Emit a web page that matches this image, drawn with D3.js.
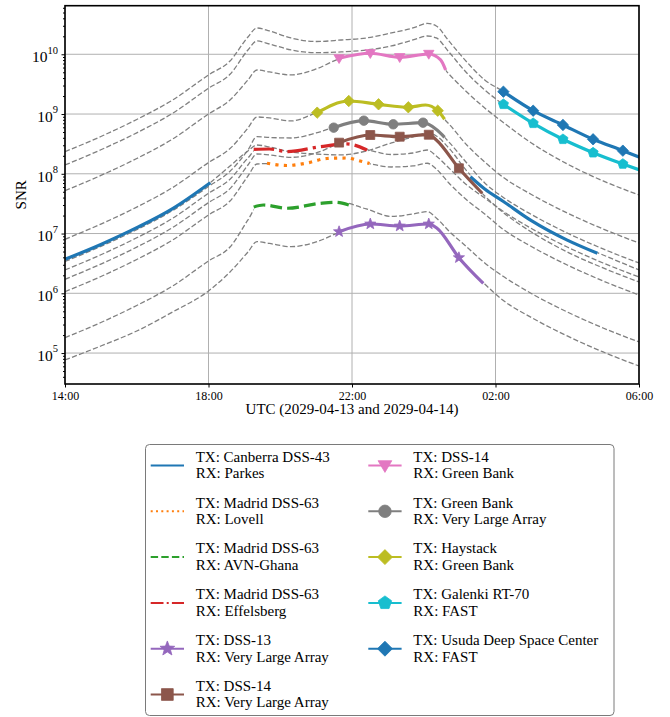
<!DOCTYPE html>
<html>
<head>
<meta charset="utf-8">
<script src="https://cdn.jsdelivr.net/npm/d3@7/dist/d3.min.js"></script>
<style>
  body { margin: 0; background: #fff; }
  svg text { font-family: "Liberation Serif", "Times New Roman", serif; fill: #000; }
</style>
</head>
<body>
<div id="chart"></div>
<script>
// ════════════════════════════════════════════
// Data — values are log10(SNR)
// hours counted from 2029-04-13 00:00 UTC (26 = 02:00 next day)
// ════════════════════════════════════════════

const xTicks = [14, 18, 22, 26, 30];
const xTickLabels = ["14:00", "18:00", "22:00", "02:00", "06:00"];
const yTicks = [1e5, 1e6, 1e7, 1e8, 1e9, 1e10];

// ── predicted SNR over the whole pass (grey dashed) ──
const modelHours = [14, 15, 16, 17, 18, 18.6, 19.1, 19.35, 19.7, 20.3, 21, 21.7, 22.4, 23.1, 23.7, 24.1, 24.35, 24.7, 25.2, 25.7, 26.2, 27, 28, 29, 30];

const canberraParkesModel = [6.569, 6.818, 7.098, 7.418, 7.829, 8.131, 8.382, 8.482, 8.449, 8.365, 8.331, 8.315, 8.382, 8.516, 8.616, 8.683, 8.633, 8.432, 8.047, 7.746, 7.545, 7.215, 6.889, 6.641, 6.390];
const madridLovellModel = [6.027, 6.281, 6.566, 6.892, 7.311, 7.545, 7.963, 8.164, 8.172, 8.139, 8.214, 8.265, 8.178, 8.114, 8.131, 8.176, 8.080, 7.846, 7.562, 7.327, 7.076, 6.783, 6.474, 6.206, 5.972];
const madridAvnModel = [5.257, 5.511, 5.796, 6.122, 6.541, 6.775, 7.227, 7.444, 7.461, 7.423, 7.495, 7.520, 7.411, 7.286, 7.327, 7.366, 7.260, 7.043, 6.775, 6.507, 6.290, 5.997, 5.687, 5.419, 5.185];
const madridEffelsbergModel = [6.390, 6.645, 6.929, 7.255, 7.674, 7.908, 8.265, 8.407, 8.390, 8.370, 8.449, 8.490, 8.407, 8.323, 8.348, 8.398, 8.298, 8.097, 7.813, 7.595, 7.378, 7.085, 6.775, 6.507, 6.273];
const dss13VlaModel = [4.884, 5.118, 5.369, 5.687, 6.039, 6.357, 6.691, 6.864, 6.834, 6.780, 6.859, 7.034, 7.152, 7.135, 7.143, 7.160, 7.093, 6.859, 6.474, 6.156, 5.888, 5.595, 5.286, 5.018, 4.783];
const dss14VlaModel = [6.234, 6.489, 6.773, 7.100, 7.518, 7.752, 8.147, 8.331, 8.315, 8.276, 8.348, 8.526, 8.641, 8.636, 8.636, 8.654, 8.566, 8.306, 7.947, 7.629, 7.361, 7.026, 6.691, 6.424, 6.189];
const dss14GbModel = [7.717, 7.972, 8.256, 8.582, 9.001, 9.235, 9.570, 9.737, 9.704, 9.654, 9.754, 9.938, 10.013, 9.963, 9.972, 10.005, 9.905, 9.670, 9.369, 9.101, 8.867, 8.516, 8.164, 7.880, 7.645];
const gbVlaModel = [6.532, 6.785, 7.065, 7.385, 7.787, 8.042, 8.398, 8.621, 8.608, 8.599, 8.683, 8.817, 8.884, 8.834, 8.842, 8.850, 8.750, 8.532, 8.181, 7.846, 7.612, 7.319, 7.009, 6.742, 6.507];
const haystackGbModel = [6.904, 7.158, 7.443, 7.769, 8.188, 8.422, 8.767, 8.951, 8.934, 8.884, 9.018, 9.168, 9.193, 9.143, 9.101, 9.135, 9.034, 8.834, 8.482, 8.198, 7.947, 7.654, 7.344, 7.076, 6.842];
const galenkiFastModel = [8.147, 8.402, 8.686, 9.013, 9.431, 9.665, 10.072, 10.223, 10.172, 10.072, 10.027, 10.039, 10.072, 10.139, 10.239, 10.306, 10.273, 10.039, 9.687, 9.403, 9.168, 8.870, 8.551, 8.293, 8.072];
const usudaFastModel = [8.370, 8.624, 8.909, 9.235, 9.654, 9.888, 10.290, 10.440, 10.390, 10.273, 10.214, 10.239, 10.273, 10.357, 10.440, 10.516, 10.474, 10.223, 9.871, 9.570, 9.386, 9.093, 8.783, 8.516, 8.281];

// ── observable windows (coloured) ──
const canberraHours1 = [14, 15, 16, 17, 18.05];
const canberraSnr1 = [6.569, 6.818, 7.098, 7.418, 7.851];
const canberraHours2 = [25.3, 25.7, 26.2, 27, 28, 28.84];
const canberraSnr2 = [7.951, 7.746, 7.545, 7.215, 6.889, 6.669];

const lovellHours = [19.63, 20.19, 20.75, 21.3, 21.86, 22.19, 22.49];
const lovellSnr = [8.176, 8.139, 8.181, 8.256, 8.264, 8.219, 8.172];

const avnHours = [19.26, 19.53, 20.19, 21.12, 21.54, 21.91];
const avnSnr = [7.444, 7.478, 7.423, 7.506, 7.523, 7.478];

const effelsbergHours = [19.26, 19.7, 20.19, 21.12, 21.86, 22.42];
const effelsbergSnr = [8.410, 8.415, 8.370, 8.454, 8.499, 8.398];

const dss13VlaHours = [21.64, 22.51, 23.33, 24.14, 24.37, 24.98, 25.66];
const dss13VlaSnr = [7.031, 7.160, 7.126, 7.160, 7.088, 6.596, 6.167];
const dss13VlaMarks = [1, 1, 1, 1, 0, 1, 0];

const dss14VlaHours = [21.64, 22.51, 23.33, 24.14, 24.35, 24.98, 25.63];
const dss14VlaSnr = [8.521, 8.649, 8.621, 8.654, 8.566, 8.092, 7.674];
const dss14VlaMarks = [1, 1, 1, 1, 0, 1, 0];

const dss14GbHours = [21.64, 22.51, 23.33, 24.14, 24.47, 24.61];
const dss14GbSnr = [9.933, 10.017, 9.950, 10.005, 9.905, 9.737];
const dss14GbMarks = [1, 1, 1, 1, 0, 0];

const gbVlaHours = [21.49, 22.33, 23.15, 23.98, 24.37, 24.58];
const gbVlaSnr = [8.772, 8.889, 8.828, 8.855, 8.733, 8.611];
const gbVlaMarks = [1, 1, 1, 1, 0, 0];

const haystackHours = [21.03, 21.91, 22.74, 23.57, 24.05, 24.39, 24.58];
const haystackSnr = [9.023, 9.218, 9.163, 9.113, 9.151, 9.056, 8.912];
const haystackMarks = [1, 1, 1, 1, 0, 1, 0];

const fastHours = [26.22, 27.05, 27.88, 28.72, 29.55, 30.1];
const galenkiSnr = [9.163, 8.845, 8.577, 8.353, 8.164, 8.047];
const usudaSnr = [9.374, 9.056, 8.817, 8.577, 8.387, 8.256];
const fastMarks = [1, 1, 1, 1, 1, 0];

const txNames = ["Canberra DSS-43", "Madrid DSS-63", "Madrid DSS-63", "Madrid DSS-63", "DSS-13", "DSS-14",
  "DSS-14", "Green Bank", "Haystack", "Galenki RT-70", "Usuda Deep Space Center"];
const rxNames = ["Parkes", "Lovell", "AVN-Ghana", "Effelsberg", "Very Large Array", "Very Large Array",
  "Green Bank", "Very Large Array", "Green Bank", "FAST", "FAST"];

// ── Series table ──
const seg = (t, v, m) => t.map((h, i) => ({ h, v: v[i], mark: m ? m[i] === 1 : false }));

const series = [
  { color: "#1f77b4", dash: null, marker: null, model: canberraParkesModel,
    segs: [seg(canberraHours1, canberraSnr1), seg(canberraHours2, canberraSnr2)] },
  { color: "#ff7f0e", dash: [1, 1.65], marker: null, model: madridLovellModel, segs: [seg(lovellHours, lovellSnr)] },
  { color: "#2ca02c", dash: [3.7, 1.6], marker: null, model: madridAvnModel, segs: [seg(avnHours, avnSnr)] },
  { color: "#d62728", dash: [6.4, 1.6, 1, 1.6], marker: null, model: madridEffelsbergModel,
    segs: [seg(effelsbergHours, effelsbergSnr)] },
  { color: "#9467bd", dash: null, marker: "*", model: dss13VlaModel, segs: [seg(dss13VlaHours, dss13VlaSnr, dss13VlaMarks)] },
  { color: "#8c564b", dash: null, marker: "s", model: dss14VlaModel, segs: [seg(dss14VlaHours, dss14VlaSnr, dss14VlaMarks)] },
  { color: "#e377c2", dash: null, marker: "v", model: dss14GbModel, segs: [seg(dss14GbHours, dss14GbSnr, dss14GbMarks)] },
  { color: "#7f7f7f", dash: null, marker: "o", model: gbVlaModel, segs: [seg(gbVlaHours, gbVlaSnr, gbVlaMarks)] },
  { color: "#bcbd22", dash: null, marker: "D", model: haystackGbModel, segs: [seg(haystackHours, haystackSnr, haystackMarks)] },
  { color: "#17becf", dash: null, marker: "p", model: galenkiFastModel, segs: [seg(fastHours, galenkiSnr, fastMarks)] },
  { color: "#1f77b4", dash: null, marker: "D", model: usudaFastModel, segs: [seg(fastHours, usudaSnr, fastMarks)] },
];

// ════════════════════════════════════════════
// Chart
// ════════════════════════════════════════════

const W = 670, H = 717;
const P = { l: 65, r: 639, t: 5.7, b: 384 };

const x = d3.scaleLinear().domain([14, 30]).range([P.l, P.r]);
const y = d3.scaleLog().domain([10 ** 4.482, 10 ** 10.813]).range([P.b, P.t]);

const svg = d3.select("#chart").append("svg").attr("width", W).attr("height", H);
const defs = svg.append("defs");

defs.append("clipPath").attr("id", "plot-clip")
  .append("rect")
  .attr("x", P.l).attr("y", P.t)
  .attr("width", P.r - P.l).attr("height", P.b - P.t);

// ── Grid ──
const grid = svg.append("g").attr("stroke", "#b0b0b0").attr("stroke-width", 1);
grid.selectAll(".gx").data(xTicks).join("line")
  .attr("x1", (d) => x(d)).attr("x2", (d) => x(d))
  .attr("y1", P.t).attr("y2", P.b);
grid.selectAll(".gy").data(yTicks).join("line")
  .attr("x1", P.l).attr("x2", P.r)
  .attr("y1", (d) => y(d)).attr("y2", (d) => y(d));

// ── Marker shapes ──
function markerPath(kind, s) {
  if (kind === "o") {
    const r = s / 2;
    return `M${r},0A${r},${r} 0 1,1 ${-r},0A${r},${r} 0 1,1 ${r},0Z`;
  }
  if (kind === "s") {
    const h = s * 0.47;
    return `M${-h},${-h}H${h}V${h}H${-h}Z`;
  }
  if (kind === "v") {
    const h = s * 0.55;
    return `M${-h},${-h * 0.7}L${h},${-h * 0.7}L0,${h}Z`;
  }
  if (kind === "D") {
    const r = s * 0.6;
    return `M0,${-r}L${r},0L0,${r}L${-r},0Z`;
  }
  if (kind === "*" || kind === "p") {
    const n = kind === "*" ? 10 : 5;
    const r = kind === "*" ? s * 0.62 : s * 0.56;
    let p = "";
    for (let i = 0; i < n; i++) {
      const a = -Math.PI / 2 + (i * 2 * Math.PI) / n;
      const rr = kind === "*" && i % 2 ? r * 0.42 : r;
      p += (i ? "L" : "M") + (rr * Math.cos(a)).toFixed(2) + "," + (rr * Math.sin(a)).toFixed(2);
    }
    return p + "Z";
  }
  return "";
}

// ── Lines ──
const line = d3.line()
  .x((d) => x(d.h))
  .y((d) => y(10 ** d.v))
  .curve(d3.curveMonotoneX);

const plot = svg.append("g").attr("clip-path", "url(#plot-clip)");

// predicted curves, hidden where the coloured observation is drawn
series.forEach((s, i) => {
  const cuts = s.segs.map((pts) => [pts[0].h, pts[pts.length - 1].h]);
  const gaps = [];
  let start = 13;
  cuts.forEach(([a, b]) => { gaps.push([start, a]); start = b; });
  gaps.push([start, 31]);

  const cp = defs.append("clipPath").attr("id", `gap-${i}`);
  gaps.forEach(([a, b]) => {
    cp.append("rect")
      .attr("x", x(a)).attr("y", 0)
      .attr("width", Math.max(0, x(b) - x(a))).attr("height", H);
  });

  plot.append("path")
    .datum(modelHours.map((h, k) => ({ h, v: s.model[k] })))
    .attr("clip-path", `url(#gap-${i})`)
    .attr("fill", "none")
    .attr("stroke", "gray")
    .attr("stroke-width", 1.3)
    .attr("stroke-dasharray", "5.2,2.3")
    .attr("d", line);
});

const LW = 3.2;
series.forEach((s) => {
  s.segs.forEach((pts) => {
    plot.append("path")
      .datum(pts)
      .attr("fill", "none")
      .attr("stroke", s.color)
      .attr("stroke-width", LW)
      .attr("stroke-dasharray", s.dash ? s.dash.map((v) => v * LW).join(",") : null)
      .attr("d", line);

    if (s.marker) {
      plot.selectAll(null)
        .data(pts.filter((d) => d.mark))
        .join("path")
        .attr("transform", (d) => `translate(${x(d.h)},${y(10 ** d.v)})`)
        .attr("d", markerPath(s.marker, 9.5))
        .attr("fill", s.color)
        .attr("stroke", s.color)
        .attr("stroke-width", 0.8);
    }
  });
});

// ── Axes ──
const xAxis = svg.append("g")
  .attr("transform", `translate(0,${P.b})`)
  .call(d3.axisBottom(x).tickValues(xTicks).tickFormat((d, i) => xTickLabels[i]).tickSize(3.5).tickPadding(3.5))
  .attr("font-size", 12);
xAxis.select(".domain").remove();

const minorTicks = [];
for (let k = 4; k <= 10; k++) {
  for (let m = 2; m <= 9; m++) {
    const v = m * 10 ** k;
    if (v > y.domain()[0] && v < y.domain()[1]) minorTicks.push(v);
  }
}
const yMinor = svg.append("g")
  .attr("transform", `translate(${P.l},0)`)
  .call(d3.axisLeft(y).tickValues(minorTicks).tickFormat("").tickSize(2));
yMinor.select(".domain").remove();

const yAxis = svg.append("g")
  .attr("transform", `translate(${P.l},0)`)
  .call(d3.axisLeft(y).tickValues(yTicks).tickFormat("").tickSize(3.5).tickPadding(3.5))
  .attr("font-size", 15.5);
yAxis.select(".domain").remove();
yAxis.selectAll(".tick text").each(function (d) {
  const t = d3.select(this).attr("dy", "0.47em").attr("x", -7);
  t.append("tspan").text("10");
  t.append("tspan").attr("dy", -8.5).attr("font-size", 10.5).text(Math.round(Math.log10(d)));
});

// frame
svg.append("rect")
  .attr("x", P.l).attr("y", P.t)
  .attr("width", P.r - P.l).attr("height", P.b - P.t)
  .attr("fill", "none").attr("stroke", "#000").attr("stroke-width", 1.6);

// axis titles
svg.append("text")
  .attr("x", (P.l + P.r) / 2).attr("y", 414)
  .attr("text-anchor", "middle").attr("font-size", 15)
  .text("UTC (2029-04-13 and 2029-04-14)");

svg.append("text")
  .attr("transform", `translate(26,${(P.t + P.b) / 2}) rotate(-90)`)
  .attr("text-anchor", "middle").attr("font-size", 15)
  .text("SNR");

// ── Legend ──
const lg = svg.append("g");
lg.append("rect")
  .attr("x", 145.5).attr("y", 444.5)
  .attr("width", 468.5).attr("height", 271)
  .attr("rx", 4)
  .attr("fill", "#fff").attr("stroke", "#7a7a7a").attr("stroke-width", 1);

const LLW = 2;
series.forEach((s, i) => {
  const col = i < 6 ? 0 : 1;
  const row = i < 6 ? i : i - 6;
  const hx = [150.7, 368.3][col];
  const tx = [195.7, 413.3][col];
  const base = 461.7 + row * 45.8;
  const hy = base + 3.8;

  lg.append("line")
    .attr("x1", hx).attr("x2", hx + 33.3)
    .attr("y1", hy).attr("y2", hy)
    .attr("stroke", s.color).attr("stroke-width", LLW)
    .attr("stroke-dasharray", s.dash ? s.dash.map((v) => v * LLW).join(",") : null);

  if (s.marker) {
    lg.append("path")
      .attr("transform", `translate(${hx + 16.65},${hy})`)
      .attr("d", markerPath(s.marker, 12.5))
      .attr("fill", s.color).attr("stroke", s.color).attr("stroke-width", 0.8);
  }

  const t = lg.append("text").attr("x", tx).attr("y", base).attr("font-size", 15);
  t.append("tspan").attr("x", tx).text(`TX: ${txNames[i]}`);
  t.append("tspan").attr("x", tx).attr("dy", 16.6).text(`RX: ${rxNames[i]}`);
});
</script>
</body>
</html>
